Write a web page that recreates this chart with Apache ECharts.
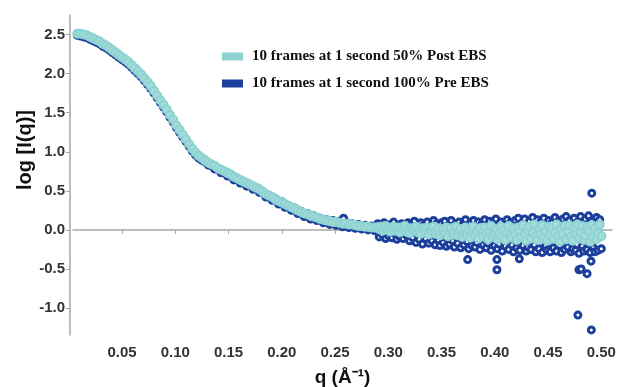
<!DOCTYPE html>
<html>
<head>
<meta charset="utf-8">
<script src="https://cdn.jsdelivr.net/npm/echarts@6/dist/echarts.min.js"></script>
<style>
  html, body { margin: 0; padding: 0; background: #fff; }
  #chart { width: 618px; height: 387px; }
</style>
</head>
<body>
<div id="chart"></div>
<script>
// q (1/A) sampled every 0.003 on the smooth part of the curve
const qLow = [
  0.008,0.011,0.014,0.017,0.020,0.023,0.026,0.029,0.032,0.035,
  0.038,0.041,0.044,0.047,0.050,0.053,0.056,0.059,0.062,0.065,
  0.068,0.071,0.074,0.077,0.080,0.083,0.086,0.089,0.092,0.095,
  0.098,0.101,0.104,0.107,0.110,0.113,0.116,0.119,0.122,0.125,
  0.128,0.131,0.134,0.137,0.140,0.143,0.146,0.149,0.152,0.155,
  0.158,0.161,0.164,0.167,0.170,0.173,0.176,0.179,0.182,0.185,
  0.188,0.191,0.194,0.197,0.200,0.203,0.206,0.209,0.212,0.215,
  0.218,0.221,0.224,0.227,0.230,0.233,0.236,0.239,0.242,0.245,
  0.248,0.251,0.254,0.257,0.260,0.263,0.266,0.269,0.272,0.275,
  0.278,0.281,0.284,0.287
];
// denser sampling on the noisy tail
const qHigh = [
  0.2900,0.2915,0.2930,0.2945,0.2960,0.2975,0.2990,0.3005,0.3020,0.3035,
  0.3050,0.3065,0.3080,0.3095,0.3110,0.3125,0.3140,0.3155,0.3170,0.3185,
  0.3200,0.3215,0.3230,0.3245,0.3260,0.3275,0.3290,0.3305,0.3320,0.3335,
  0.3350,0.3365,0.3380,0.3395,0.3410,0.3425,0.3440,0.3455,0.3470,0.3485,
  0.3500,0.3515,0.3530,0.3545,0.3560,0.3575,0.3590,0.3605,0.3620,0.3635,
  0.3650,0.3665,0.3680,0.3695,0.3710,0.3725,0.3740,0.3755,0.3770,0.3785,
  0.3800,0.3815,0.3830,0.3845,0.3860,0.3875,0.3890,0.3905,0.3920,0.3935,
  0.3950,0.3965,0.3980,0.3995,0.4010,0.4025,0.4040,0.4055,0.4070,0.4085,
  0.4100,0.4115,0.4130,0.4145,0.4160,0.4175,0.4190,0.4205,0.4220,0.4235,
  0.4250,0.4265,0.4280,0.4295,0.4310,0.4325,0.4340,0.4355,0.4370,0.4385,
  0.4400,0.4415,0.4430,0.4445,0.4460,0.4475,0.4490,0.4505,0.4520,0.4535,
  0.4550,0.4565,0.4580,0.4595,0.4610,0.4625,0.4640,0.4655,0.4670,0.4685,
  0.4700,0.4715,0.4730,0.4745,0.4760,0.4775,0.4790,0.4805,0.4820,0.4835,
  0.4850,0.4865,0.4880,0.4895,0.4910,0.4925,0.4940,0.4955,0.4970,0.4985,
  0.5000
];

// log I(q), 10 frames at 1 s, 50% Post EBS
const postLow = [
  2.51,2.51,2.50,2.49,2.47,2.45,2.43,2.41,2.38,2.36,
  2.33,2.30,2.27,2.24,2.21,2.18,2.15,2.11,2.07,2.03,
  1.99,1.94,1.89,1.84,1.78,1.72,1.66,1.60,1.54,1.47,
  1.41,1.34,1.28,1.22,1.16,1.10,1.04,0.99,0.95,0.92,
  0.89,0.86,0.84,0.82,0.79,0.77,0.75,0.73,0.71,0.68,
  0.66,0.64,0.62,0.60,0.58,0.56,0.54,0.52,0.49,0.46,
  0.44,0.42,0.39,0.37,0.35,0.33,0.31,0.29,0.27,0.25,
  0.23,0.21,0.20,0.18,0.17,0.16,0.14,0.13,0.12,0.11,
  0.10,0.10,0.09,0.08,0.08,0.07,0.07,0.06,0.05,0.05,
  0.04,0.04,0.03,0.03
];
const postHigh = [
  0.03,0.01,0.04,-0.01,0.02,0.05,0.00,0.03,-0.02,0.02,
  0.04,-0.01,0.01,0.03,-0.03,0.02,0.00,0.05,-0.02,0.01,
  -0.04,0.02,0.00,-0.01,0.04,-0.03,0.01,-0.05,0.02,0.00,
  -0.03,0.03,-0.06,0.00,-0.02,0.04,-0.05,-0.01,0.02,-0.07,
  -0.02,0.01,-0.05,0.03,-0.08,-0.01,0.02,-0.06,-0.03,0.04,
  -0.07,-0.02,0.01,-0.09,-0.04,0.03,-0.06,0.00,-0.10,-0.03,
  0.04,-0.07,-0.01,-0.11,0.02,-0.05,-0.08,0.03,-0.04,-0.12,
  -0.02,0.05,-0.09,-0.03,0.01,-0.12,-0.06,0.04,-0.08,0.00,
  -0.13,-0.04,0.05,-0.07,-0.10,0.02,-0.05,-0.13,0.03,-0.02,
  -0.09,0.06,-0.06,-0.14,-0.01,0.04,-0.11,-0.04,0.07,-0.08,
  -0.13,0.01,-0.05,0.06,-0.10,-0.02,-0.14,0.04,-0.07,0.02,
  -0.11,-0.04,0.07,-0.08,-0.15,0.01,-0.05,0.05,-0.12,-0.02,
  0.06,-0.09,-0.14,0.03,-0.06,0.07,-0.11,-0.03,0.05,-0.13,
  -0.07,0.04,-0.01,-0.15,0.06,-0.09,0.02,-0.12,-0.04,0.07,
  -0.08
];

// log I(q), 10 frames at 1 s, 100% Pre EBS
const preLow = [
  2.49,2.48,2.47,2.46,2.44,2.42,2.40,2.38,2.35,2.33,
  2.30,2.27,2.24,2.21,2.18,2.15,2.12,2.08,2.04,2.00,
  1.96,1.91,1.86,1.81,1.75,1.69,1.63,1.57,1.51,1.44,
  1.38,1.31,1.25,1.19,1.13,1.07,1.01,0.96,0.92,0.89,
  0.87,0.83,0.82,0.78,0.78,0.73,0.74,0.69,0.70,0.64,
  0.66,0.60,0.62,0.56,0.58,0.52,0.54,0.48,0.49,0.42,
  0.44,0.38,0.40,0.33,0.36,0.29,0.31,0.25,0.28,0.21,
  0.24,0.17,0.21,0.14,0.18,0.12,0.15,0.09,0.13,0.07,
  0.12,0.06,0.11,0.04,0.10,0.03,0.08,0.02,0.07,0.01,
  0.06,0.00,0.05,-0.01
];
const preHigh = [
  0.08,-0.09,0.05,-0.06,0.09,-0.11,0.03,-0.08,0.07,-0.10,
  0.10,-0.05,-0.12,0.06,-0.09,0.08,-0.11,0.04,-0.07,0.09,
  -0.14,0.07,-0.10,0.11,-0.16,0.05,-0.12,0.09,-0.18,0.06,
  -0.11,0.10,-0.17,0.04,-0.14,0.12,-0.19,0.08,-0.13,-0.20,
  0.09,-0.16,0.11,-0.21,0.05,-0.18,0.12,-0.14,-0.22,0.08,
  -0.17,0.10,-0.23,0.06,-0.19,0.13,-0.15,-0.24,0.09,-0.20,
  0.12,-0.22,-0.16,0.10,-0.25,0.07,-0.19,0.13,-0.23,-0.17,
  0.11,-0.26,0.08,-0.20,0.14,-0.24,-0.18,0.10,-0.27,0.06,
  -0.21,0.13,-0.25,0.09,-0.19,-0.28,0.12,-0.23,0.15,-0.26,
  0.08,-0.20,0.14,-0.27,-0.22,0.11,-0.25,0.16,-0.19,-0.28,
  0.13,-0.24,0.10,-0.29,0.15,-0.21,-0.26,0.12,-0.28,0.09,
  -0.23,0.16,-0.27,0.11,-0.20,-0.29,0.14,-0.25,0.17,-0.22,
  0.12,-0.28,-0.24,0.15,-0.26,0.10,-0.30,0.17,-0.21,-0.27,
  0.14,-0.25,0.18,-0.29,0.11,-0.23,-0.28,0.16,-0.26,0.13,
  -0.24
];
// stray Pre EBS points away from the band
const preOutlierQ   = [0.258, 0.3745, 0.402, 0.402, 0.423, 0.479, 0.481, 0.4866, 0.4903, 0.491, 0.478, 0.4906];
const preOutlierLog = [0.15, -0.38, -0.38, -0.51, -0.37, -0.51, -0.50, -0.56, -0.40, 0.47, -1.09, -1.28];

const xTicks = [0.05, 0.10, 0.15, 0.20, 0.25, 0.30, 0.35, 0.40, 0.45, 0.50];
const yTicks = [-1.0, -0.5, 0.0, 0.5, 1.0, 1.5, 2.0, 2.5];

const POST_NAME = '10 frames at 1 second 50% Post EBS';
const PRE_NAME = '10 frames at 1 second 100% Pre EBS';
const CYAN = '#8dd3d1';
const NAVY = '#1c3f9c';
const AXIS_GREY = '#a6a6a6';
const SANS = '"Liberation Sans", Arial, sans-serif';
const SERIF = '"Liberation Serif", "Times New Roman", serif';

function pairs(qs, vs) {
  return qs.map((q, i) => [q, vs[i]]);
}

const postData = pairs(qLow, postLow).concat(pairs(qHigh, postHigh));
const preData = pairs(qLow, preLow).concat(pairs(qHigh, preHigh), pairs(preOutlierQ, preOutlierLog));

const chart = echarts.init(document.getElementById('chart'), null, { renderer: 'canvas' });

chart.setOption({
  animation: false,
  backgroundColor: '#fff',
  // keep the plot box fixed; labels may run past it as in the original figure
  grid: { left: 73, right: 6, top: 15, bottom: 52, outerBoundsMode: 'none' },
  legend: {
    orient: 'vertical',
    left: 222,
    top: 49,
    padding: 0,
    itemWidth: 21,
    itemHeight: 8,
    itemGap: 12,
    textStyle: { fontFamily: SERIF, fontWeight: 'bold', fontSize: 15, color: '#111', padding: [0, 0, 0, 4] },
    data: [
      { name: POST_NAME, icon: 'rect', itemStyle: { color: CYAN, borderWidth: 0 } },
      { name: PRE_NAME, icon: 'rect', itemStyle: { color: NAVY, borderWidth: 0 } },
    ],
  },
  xAxis: {
    type: 'value',
    min: 0.004,
    max: 0.51,
    offset: 4,
    name: 'q (Å⁻¹)',
    nameLocation: 'middle',
    nameGap: 29,
    nameMoveOverlap: false,
    nameTextStyle: { fontFamily: SANS, fontWeight: 'bold', fontSize: 19, color: '#111' },
    axisLine: { lineStyle: { color: AXIS_GREY, width: 1.5 } },
    axisTick: { show: true, length: 4, customValues: xTicks, lineStyle: { color: AXIS_GREY } },
    axisLabel: {
      customValues: xTicks,
      formatter: (v) => v.toFixed(2),
      fontFamily: SANS, fontWeight: 'bold', fontSize: 15, color: '#333', margin: 6,
    },
    splitLine: { show: false },
  },
  yAxis: {
    type: 'value',
    min: -1.345,
    max: 2.75,
    offset: 3,
    name: 'log [I(q)]',
    nameLocation: 'middle',
    nameGap: 35,
    nameMoveOverlap: false,
    nameRotate: 90,
    nameTextStyle: { fontFamily: SANS, fontWeight: 'bold', fontSize: 20, color: '#111', padding: [0, 0, 0, 50] },
    axisLine: { show: true, lineStyle: { color: AXIS_GREY, width: 1.5 } },
    axisTick: { show: true, length: 4, customValues: yTicks, lineStyle: { color: AXIS_GREY } },
    axisLabel: {
      customValues: yTicks,
      formatter: (v) => v.toFixed(1),
      fontFamily: SANS, fontWeight: 'bold', fontSize: 15, color: '#333', margin: 5,
    },
    splitLine: { show: false },
  },
  series: [
    {
      name: PRE_NAME,
      type: 'scatter',
      symbol: 'circle',
      symbolSize: 6,
      itemStyle: { color: '#ffffff', borderColor: NAVY, borderWidth: 3, opacity: 1 },
      data: preData,
      z: 2,
    },
    {
      name: POST_NAME,
      type: 'scatter',
      symbol: 'circle',
      symbolSize: 8,
      itemStyle: { color: '#a3dcdb', borderColor: CYAN, borderWidth: 2, opacity: 1 },
      data: postData,
      z: 3,
    },
  ],
});
</script>
</body>
</html>
